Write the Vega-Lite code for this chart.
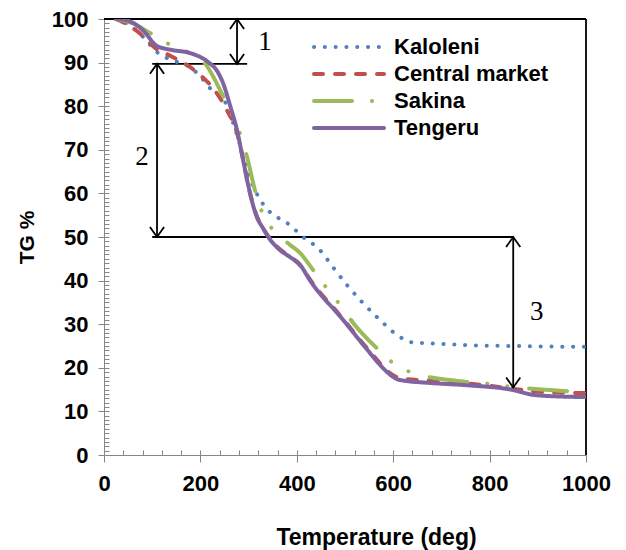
{
  "$schema": "https://vega.github.io/schema/vega-lite/v6.json",
  "width": 482,
  "height": 436,
  "autosize": "none",
  "padding": {"left": 104, "top": 19, "right": 40, "bottom": 95},
  "background": "white",
  "config": {"view": {"stroke": null}, "font": "Liberation Sans"},
  "datasets": {
    "curves": [
      {"site": "Kaloleni", "T": 25, "tg": 100}, {"site": "Kaloleni", "T": 50, "tg": 98.8}, {"site": "Kaloleni", "T": 80, "tg": 96}, {"site": "Kaloleni", "T": 110, "tg": 92.4}, {"site": "Kaloleni", "T": 150, "tg": 90.2}, {"site": "Kaloleni", "T": 178, "tg": 89}, {"site": "Kaloleni", "T": 200, "tg": 86.8}, {"site": "Kaloleni", "T": 225, "tg": 83.5}, {"site": "Kaloleni", "T": 251, "tg": 81}, {"site": "Kaloleni", "T": 270, "tg": 75.5}, {"site": "Kaloleni", "T": 285, "tg": 70}, {"site": "Kaloleni", "T": 300, "tg": 64}, {"site": "Kaloleni", "T": 310, "tg": 61.5}, {"site": "Kaloleni", "T": 320, "tg": 59.3}, {"site": "Kaloleni", "T": 340, "tg": 56.2}, {"site": "Kaloleni", "T": 360, "tg": 54.5}, {"site": "Kaloleni", "T": 380, "tg": 53.2}, {"site": "Kaloleni", "T": 413, "tg": 50}, {"site": "Kaloleni", "T": 448, "tg": 47}, {"site": "Kaloleni", "T": 475, "tg": 43.1}, {"site": "Kaloleni", "T": 504, "tg": 39}, {"site": "Kaloleni", "T": 531, "tg": 35.6}, {"site": "Kaloleni", "T": 560, "tg": 32.3}, {"site": "Kaloleni", "T": 579, "tg": 30.3}, {"site": "Kaloleni", "T": 600, "tg": 28.2}, {"site": "Kaloleni", "T": 614, "tg": 27.1}, {"site": "Kaloleni", "T": 635, "tg": 25.9}, {"site": "Kaloleni", "T": 700, "tg": 25.5}, {"site": "Kaloleni", "T": 753, "tg": 25.2}, {"site": "Kaloleni", "T": 850, "tg": 25}, {"site": "Kaloleni", "T": 1000, "tg": 24.8},
      {"site": "Central market", "T": 25, "tg": 100}, {"site": "Central market", "T": 50, "tg": 98.6}, {"site": "Central market", "T": 80, "tg": 96.2}, {"site": "Central market", "T": 110, "tg": 93}, {"site": "Central market", "T": 137, "tg": 91.6}, {"site": "Central market", "T": 178, "tg": 89}, {"site": "Central market", "T": 205, "tg": 86.6}, {"site": "Central market", "T": 234, "tg": 83}, {"site": "Central market", "T": 255, "tg": 79.1}, {"site": "Central market", "T": 276, "tg": 73.9}, {"site": "Central market", "T": 290, "tg": 67}, {"site": "Central market", "T": 300, "tg": 61.5}, {"site": "Central market", "T": 317, "tg": 54.8}, {"site": "Central market", "T": 330, "tg": 52}, {"site": "Central market", "T": 344, "tg": 49.7}, {"site": "Central market", "T": 365, "tg": 47.2}, {"site": "Central market", "T": 386, "tg": 45.5}, {"site": "Central market", "T": 407, "tg": 43.5}, {"site": "Central market", "T": 427, "tg": 40.3}, {"site": "Central market", "T": 496, "tg": 31.2}, {"site": "Central market", "T": 545, "tg": 24.6}, {"site": "Central market", "T": 600, "tg": 18.3}, {"site": "Central market", "T": 614, "tg": 17.6}, {"site": "Central market", "T": 700, "tg": 16.9}, {"site": "Central market", "T": 753, "tg": 16.4}, {"site": "Central market", "T": 849, "tg": 15.2}, {"site": "Central market", "T": 890, "tg": 14.6}, {"site": "Central market", "T": 950, "tg": 14.3}, {"site": "Central market", "T": 1000, "tg": 14.2},
      {"site": "Sakina", "T": 25, "tg": 100}, {"site": "Sakina", "T": 60, "tg": 99}, {"site": "Sakina", "T": 95, "tg": 96.8}, {"site": "Sakina", "T": 130, "tg": 94.5}, {"site": "Sakina", "T": 170, "tg": 92.6}, {"site": "Sakina", "T": 213, "tg": 89.3}, {"site": "Sakina", "T": 247, "tg": 82.3}, {"site": "Sakina", "T": 270, "tg": 77}, {"site": "Sakina", "T": 286, "tg": 72.5}, {"site": "Sakina", "T": 297, "tg": 68.3}, {"site": "Sakina", "T": 313, "tg": 60.8}, {"site": "Sakina", "T": 328, "tg": 55.7}, {"site": "Sakina", "T": 351, "tg": 51.6}, {"site": "Sakina", "T": 386, "tg": 48.2}, {"site": "Sakina", "T": 407, "tg": 46.3}, {"site": "Sakina", "T": 434, "tg": 42.4}, {"site": "Sakina", "T": 462, "tg": 38.3}, {"site": "Sakina", "T": 490, "tg": 34.4}, {"site": "Sakina", "T": 517, "tg": 30.3}, {"site": "Sakina", "T": 566, "tg": 24.5}, {"site": "Sakina", "T": 600, "tg": 21.1}, {"site": "Sakina", "T": 641, "tg": 18.8}, {"site": "Sakina", "T": 718, "tg": 17.2}, {"site": "Sakina", "T": 801, "tg": 16.3}, {"site": "Sakina", "T": 849, "tg": 15.6}, {"site": "Sakina", "T": 925, "tg": 14.9}, {"site": "Sakina", "T": 1000, "tg": 14.4},
      {"site": "Tengeru", "T": 25, "tg": 100}, {"site": "Tengeru", "T": 50, "tg": 99.6}, {"site": "Tengeru", "T": 80, "tg": 97.5}, {"site": "Tengeru", "T": 110, "tg": 93.8}, {"site": "Tengeru", "T": 140, "tg": 92.9}, {"site": "Tengeru", "T": 178, "tg": 92.2}, {"site": "Tengeru", "T": 214, "tg": 90.3}, {"site": "Tengeru", "T": 235, "tg": 88}, {"site": "Tengeru", "T": 247, "tg": 85.3}, {"site": "Tengeru", "T": 262, "tg": 80}, {"site": "Tengeru", "T": 276, "tg": 74.5}, {"site": "Tengeru", "T": 288, "tg": 68}, {"site": "Tengeru", "T": 297, "tg": 63}, {"site": "Tengeru", "T": 317, "tg": 54.6}, {"site": "Tengeru", "T": 330, "tg": 52}, {"site": "Tengeru", "T": 344, "tg": 49.5}, {"site": "Tengeru", "T": 365, "tg": 47}, {"site": "Tengeru", "T": 386, "tg": 45.4}, {"site": "Tengeru", "T": 407, "tg": 43.6}, {"site": "Tengeru", "T": 427, "tg": 40.1}, {"site": "Tengeru", "T": 496, "tg": 31}, {"site": "Tengeru", "T": 545, "tg": 24.3}, {"site": "Tengeru", "T": 580, "tg": 19.8}, {"site": "Tengeru", "T": 600, "tg": 17.9}, {"site": "Tengeru", "T": 614, "tg": 17.2}, {"site": "Tengeru", "T": 680, "tg": 16.5}, {"site": "Tengeru", "T": 753, "tg": 16}, {"site": "Tengeru", "T": 849, "tg": 14.9}, {"site": "Tengeru", "T": 890, "tg": 13.8}, {"site": "Tengeru", "T": 950, "tg": 13.4}, {"site": "Tengeru", "T": 1000, "tg": 13.3}
    ],
    "rules": [
      {"x1": 0, "x2": 1000, "y1": 100, "y2": 100},
      {"x1": 1000, "x2": 1000, "y1": 0, "y2": 100},
      {"x1": 100, "x2": 297, "y1": 89.7, "y2": 89.7},
      {"x1": 100, "x2": 849, "y1": 50, "y2": 50},
      {"x1": 276, "x2": 276, "y1": 100, "y2": 89.7},
      {"x1": 110, "x2": 110, "y1": 89.7, "y2": 50},
      {"x1": 849, "x2": 849, "y1": 50, "y2": 15.5}
    ],
    "heads": [
      {"x": 276, "y": 100, "dir": "up"}, {"x": 276, "y": 89.7, "dir": "down"},
      {"x": 110, "y": 89.7, "dir": "up"}, {"x": 110, "y": 50, "dir": "down"},
      {"x": 849, "y": 50, "dir": "up"}, {"x": 849, "y": 15.5, "dir": "down"}
    ],
    "labels": [
      {"x": 334, "y": 94.7, "t": "1"}, {"x": 79, "y": 68.3, "t": "2"}, {"x": 898, "y": 32.8, "t": "3"}
    ]
  },
  "layer": [
    {
      "data": {"name": "rules"},
      "mark": {"type": "rule", "color": "black", "strokeWidth": 1.8},
      "encoding": {
        "x": {
          "field": "x1", "type": "quantitative",
          "scale": {"domain": [0, 1000], "nice": false},
          "axis": {
            "orient": "bottom", "title": null, "labels": false, "domain": false, "grid": false,
            "values": [0, 40, 80, 120, 160, 200, 240, 280, 320, 360, 400, 440, 480, 520, 560, 600, 640, 680, 720, 760, 800, 840, 880, 920, 960, 1000],
            "tickSize": -5, "tickColor": "#868686"
          }
        },
        "x2": {"field": "x2"},
        "y": {
          "field": "y1", "type": "quantitative",
          "scale": {"domain": [0, 100], "nice": false},
          "axis": {
            "orient": "left", "title": null, "labels": false, "domain": false, "grid": false,
            "values": [0,1,2,3,4,5,6,7,8,9,10,11,12,13,14,15,16,17,18,19,20,21,22,23,24,25,26,27,28,29,30,31,32,33,34,35,36,37,38,39,40,41,42,43,44,45,46,47,48,49,50,51,52,53,54,55,56,57,58,59,60,61,62,63,64,65,66,67,68,69,70,71,72,73,74,75,76,77,78,79,80,81,82,83,84,85,86,87,88,89,90,91,92,93,94,95,96,97,98,99,100],
            "tickSize": -5, "tickColor": "#868686"
          }
        },
        "y2": {"field": "y2"}
      }
    },
    {
      "layer": [
        {
          "data": {"name": "curves"},
          "mark": {"type": "line", "interpolate": "monotone", "strokeWidth": 4, "strokeCap": "round", "clip": true},
          "encoding": {
            "x": {
              "field": "T", "type": "quantitative",
              "scale": {"domain": [0, 1000], "nice": false},
              "axis": {
                "orient": "bottom",
                "title": "Temperature (deg)",
                "values": [0, 200, 400, 600, 800, 1000],
                "format": "d", "labelFlush": false,
                "labelFont": "Liberation Sans", "labelFontWeight": "bold", "labelFontSize": 22, "labelColor": "black",
                "labelPadding": 11, "tickSize": 7, "tickColor": "#868686", "domainColor": "#868686", "grid": false,
                "titleFont": "Liberation Sans", "titleFontSize": 23, "titleFontWeight": "bold", "titleColor": "black",
                "titleBaseline": "alphabetic", "titleX": 272, "titleY": 89, "titleAlign": "center"
              }
            },
            "y": {
              "field": "tg", "type": "quantitative",
              "scale": {"domain": [0, 100], "nice": false},
              "axis": {
                "orient": "left",
                "title": "TG %",
                "values": [0, 10, 20, 30, 40, 50, 60, 70, 80, 90, 100],
                "format": "d", "labelFlush": false,
                "labelFont": "Liberation Sans", "labelFontWeight": "bold", "labelFontSize": 22, "labelColor": "black",
                "labelPadding": 10, "tickSize": 6, "tickColor": "#868686", "domainColor": "#868686", "grid": false,
                "titleFont": "Liberation Sans", "titleFontSize": 21, "titleFontWeight": "bold", "titleColor": "black",
                "titleAngle": -90, "titleBaseline": "alphabetic", "titleAlign": "center", "titleX": -71, "titleY": 218
              }
            },
            "color": {
              "field": "site", "type": "nominal",
              "scale": {"domain": ["Kaloleni", "Central market", "Sakina", "Tengeru"], "range": ["#4F81BD", "#C0504D", "#9BBB59", "#8064A2"]},
              "legend": {
                "title": null, "orient": "none", "legendX": 208, "legendY": 17, "padding": 0,
                "symbolType": "stroke", "symbolSize": 4900, "symbolStrokeWidth": 4, "clipHeight": 22,
                "labelFont": "Liberation Sans", "labelFontSize": 22, "labelFontWeight": "bold", "labelColor": "black",
                "labelOffset": 8, "rowPadding": 5,
                "encode": {"symbols": {"update": {"strokeCap": {"value": "round"}}}}
              }
            },
            "strokeDash": {
              "field": "site", "type": "nominal",
              "scale": {"domain": ["Kaloleni", "Central market", "Sakina", "Tengeru"], "range": [[0.1, 10.7], [9, 12], [38, 20, 0.1, 20, 0.1, 22], [1, 0]]},
              "legend": {
                "title": null, "orient": "none", "legendX": 208, "legendY": 17, "padding": 0,
                "symbolType": "stroke", "symbolSize": 4900, "symbolStrokeWidth": 4, "clipHeight": 22,
                "labelFont": "Liberation Sans", "labelFontSize": 22, "labelFontWeight": "bold", "labelColor": "black",
                "labelOffset": 8, "rowPadding": 5,
                "encode": {"symbols": {"update": {"strokeCap": {"value": "round"}}}}
              }
            }
          }
        },
        {
          "data": {"name": "heads"},
          "mark": {"type": "point", "filled": false, "color": "black", "strokeWidth": 1.8, "size": 200, "opacity": 1},
          "encoding": {
            "x": {"field": "x", "type": "quantitative"},
            "y": {"field": "y", "type": "quantitative"},
            "shape": {"field": "dir", "type": "nominal", "scale": {"domain": ["up", "down"], "range": ["M-1,1.4L0,0L1,1.4", "M-1,-1.4L0,0L1,-1.4"]}, "legend": null}
          }
        },
        {
          "data": {"name": "labels"},
          "mark": {"type": "text", "font": "Liberation Serif", "fontSize": 27, "color": "black", "align": "center", "baseline": "middle"},
          "encoding": {
            "x": {"field": "x", "type": "quantitative"},
            "y": {"field": "y", "type": "quantitative"},
            "text": {"field": "t"}
          }
        }
      ]
    }
  ],
  "resolve": {"scale": {"x": "independent", "y": "independent"}}
}
